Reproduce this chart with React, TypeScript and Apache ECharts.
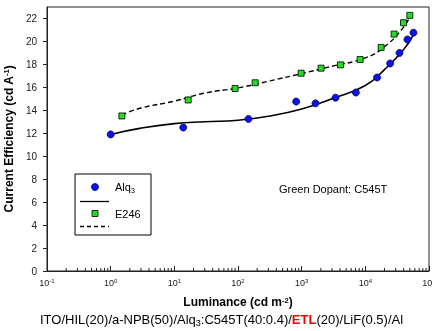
import React, { useEffect, useRef } from "react";
import * as echarts from "echarts";

// Measured data (luminance cd/m2, efficiency cd/A)
const alqLum = [1.0, 13.8, 146, 820, 1650, 3400, 7100, 15300, 24500, 34400, 45900, 57000];
const alqEff = [11.9, 12.5, 13.25, 14.76, 14.61, 15.1, 15.55, 16.86, 18.08, 19.0, 20.17, 20.76];
const e246Lum = [1.5, 16.5, 90, 186, 980, 2020, 4070, 8280, 17700, 28300, 39800, 50000];
const e246Eff = [13.51, 14.9, 15.9, 16.4, 17.23, 17.67, 17.96, 18.43, 19.48, 20.64, 21.63, 22.27];

// Fit curves
const alqFitLum = [1, 3, 10, 30, 100, 300, 1000, 3000, 10000, 20000, 40000, 57000];
const alqFitEff = [11.9, 12.45, 12.84, 13.0, 13.13, 13.48, 14.12, 15.0, 16.16, 17.55, 19.3, 20.6];
const e246FitLum = [1.5, 3, 10, 30, 100, 300, 1000, 3000, 10000, 20000, 40000, 50000];
const e246FitEff = [13.6, 14.2, 14.8, 15.5, 15.95, 16.53, 17.2, 17.84, 18.57, 19.54, 21.25, 22.15];

const minorTickValues: number[] = [];
for (let e = -1; e <= 4; e++) {
  for (let k = 2; k <= 9; k++) minorTickValues.push(k * Math.pow(10, e));
}

const FONT = "Liberation Sans, Arial, sans-serif";

export default function App() {
  const ref = useRef<HTMLDivElement>(null);
  useEffect(() => {
    const chart = echarts.init(ref.current!, null, { renderer: "svg" });
    const zip = (a: number[], b: number[]) => a.map((v, i) => [v, b[i]]);
    chart.setOption({
      animation: false,
      textStyle: { fontFamily: FONT },
      grid: {
        left: 47,
        top: 7,
        right: 3,
        bottom: 60,
        show: true,
        borderColor: "#222",
        borderWidth: 1,
        containLabel: false,
        outerBoundsMode: "none",
      },
      xAxis: {
        type: "log",
        logBase: 10,
        min: 0.1,
        max: 100000,
        name: "Luminance (cd m{sup|-2})",
        nameLocation: "middle",
        nameGap: 25,
        nameTextStyle: {
          fontFamily: FONT,
          fontWeight: "bold",
          fontSize: 12,
          color: "#000",
          rich: { sup: { fontSize: 7.5, fontWeight: "bold", verticalAlign: "top", fontFamily: FONT, color: "#000" } },
        },
        axisLine: { lineStyle: { color: "#222" } },
        axisTick: { inside: true, length: 5, lineStyle: { color: "#222" } },
        minorTick: { show: false },
        splitLine: { show: false },
        axisLabel: {
          margin: 7,
          fontSize: 9,
          color: "#222",
          fontFamily: FONT,
          hideOverlap: false,
          formatter: (v: number) => "{b|10}{e|" + Math.round(Math.log10(v)) + "}",
          rich: {
            b: { fontSize: 9, fontFamily: FONT, color: "#222" },
            e: { fontSize: 6, fontFamily: FONT, color: "#222", verticalAlign: "top" },
          },
        },
      },
      yAxis: {
        type: "value",
        min: 0,
        max: 23,
        interval: 2,
        name: "Current Efficiency (cd A{sup|-1})",
        nameLocation: "middle",
        nameGap: 24,
        nameTextStyle: {
          fontFamily: FONT,
          fontWeight: "bold",
          fontSize: 12,
          color: "#000",
          rich: { sup: { fontSize: 7.5, fontWeight: "bold", verticalAlign: "top", fontFamily: FONT, color: "#000" } },
        },
        axisLine: { show: true, lineStyle: { color: "#222" } },
        axisTick: { inside: false, length: 4, lineStyle: { color: "#222" } },
        splitLine: { show: false },
        axisLabel: {
          margin: 10,
          fontSize: 10,
          color: "#222",
          fontFamily: FONT,
          showMaxLabel: false,
          formatter: (v: number) => (v % 2 === 0 ? String(v) : ""),
        },
      },
      series: [
        {
          type: "line",
          data: zip(alqFitLum, alqFitEff),
          smooth: true,
          symbol: "none",
          lineStyle: { color: "#000", width: 1.6 },
          z: 2,
        },
        {
          type: "line",
          data: zip(e246FitLum, e246FitEff),
          smooth: true,
          symbol: "none",
          lineStyle: { color: "#000", width: 1.4, type: [5, 3] },
          z: 2,
        },
        {
          type: "scatter",
          data: zip(alqLum, alqEff),
          symbol: "circle",
          symbolSize: 7,
          itemStyle: { color: "#0a14e8", borderColor: "#000066", borderWidth: 0.8, opacity: 1 },
          z: 3,
        },
        {
          type: "scatter",
          data: zip(e246Lum, e246Eff),
          symbol: "rect",
          symbolSize: 6,
          itemStyle: { color: "#22dd22", borderColor: "#000", borderWidth: 0.8, opacity: 1 },
          z: 3,
        },
        {
          type: "custom",
          data: minorTickValues.map((v) => [v, 0]),
          clip: false,
          silent: true,
          renderItem: (params: any, api: any) => {
            const p = api.coord([api.value(0), 0]);
            return {
              type: "line",
              shape: { x1: p[0], y1: p[1], x2: p[0], y2: p[1] - 3 },
              style: { stroke: "#222", lineWidth: 1 },
            };
          },
          z: 4,
        },
      ],
      graphic: [
        {
          type: "rect",
          shape: { x: 75, y: 174, width: 76, height: 61 },
          style: { fill: "#fff", stroke: "#000", lineWidth: 1 },
          z: 10,
        },
        { type: "circle", shape: { cx: 95, cy: 187, r: 3.5 }, style: { fill: "#0a14e8", stroke: "#000066", lineWidth: 0.8 }, z: 11 },
        {
          type: "text",
          x: 115,
          y: 187,
          style: {
            text: "{a|Alq}{s|3}",
            verticalAlign: "middle",
            rich: {
              a: { fontSize: 11, fontFamily: FONT, fill: "#000", lineHeight: 14 },
              s: { fontSize: 7, fontFamily: FONT, fill: "#000", verticalAlign: "bottom", lineHeight: 14 },
            },
          },
          z: 11,
        },
        { type: "line", shape: { x1: 80, y1: 201.5, x2: 109, y2: 201.5 }, style: { stroke: "#000", lineWidth: 1.3 }, z: 11 },
        { type: "rect", shape: { x: 92, y: 210.5, width: 6, height: 6 }, style: { fill: "#22dd22", stroke: "#000", lineWidth: 0.8 }, z: 11 },
        {
          type: "text",
          x: 115,
          y: 213.5,
          style: { text: "E246", fontSize: 11, fontFamily: FONT, fill: "#000", verticalAlign: "middle" },
          z: 11,
        },
        {
          type: "line",
          shape: { x1: 80, y1: 226.5, x2: 109, y2: 226.5 },
          style: { stroke: "#000", lineWidth: 1.3, lineDash: [4, 3] },
          z: 11,
        },
        {
          type: "text",
          x: 279,
          y: 189,
          style: { text: "Green Dopant: C545T", fontSize: 11, fontFamily: FONT, fill: "#000", verticalAlign: "middle" },
          z: 11,
        },
        {
          type: "text",
          x: 40,
          y: 319,
          style: {
            text: "{n|ITO/HIL(20)/a-NPB(50)/Alq}{s|3}{n|:C545T(40:0.4)/}{r|ETL}{n|(20)/LiF(0.5)/Al}",
            verticalAlign: "middle",
            rich: {
              n: { fontSize: 13, fontFamily: FONT, fill: "#000", lineHeight: 16 },
              s: { fontSize: 9, fontFamily: FONT, fill: "#000", verticalAlign: "bottom", lineHeight: 16 },
              r: { fontSize: 13, fontFamily: FONT, fill: "#ff0000", fontWeight: "bold", lineHeight: 16 },
            },
          },
          z: 11,
        },
      ],
    });
    return () => chart.dispose();
  }, []);
  return <div ref={ref} style={{ position: "fixed", left: 0, top: 0, width: 432, height: 331 }} />;
}
